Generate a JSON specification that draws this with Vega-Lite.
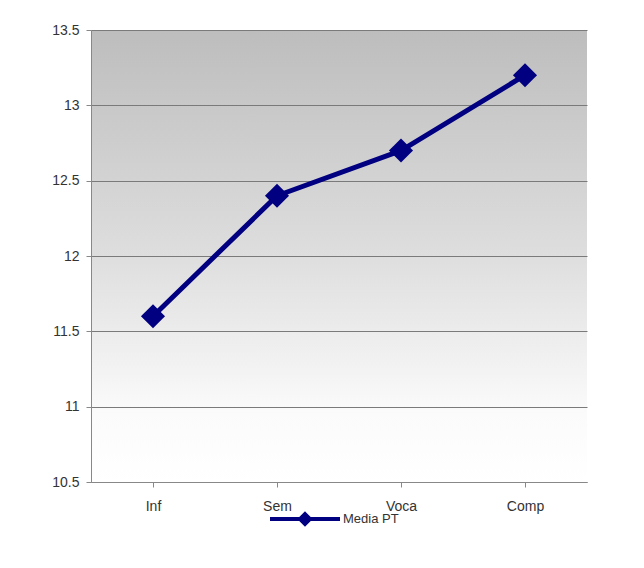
{
  "$schema": "https://vega.github.io/schema/vega-lite/v6.json",
  "width": 496,
  "height": 452,
  "autosize": {"type": "none"},
  "padding": {"left": 91, "top": 30, "right": 57, "bottom": 86},
  "background": "white",
  "config": {
    "view": {
      "stroke": null,
      "fill": {
        "gradient": "linear",
        "x1": 0, "y1": 0, "x2": 0, "y2": 1,
        "stops": [
          {"offset": 0, "color": "#bdbdbd"},
          {"offset": 0.5, "color": "#dedede"},
          {"offset": 0.85, "color": "#fbfbfb"},
          {"offset": 1, "color": "#ffffff"}
        ]
      }
    },
    "font": "Liberation Sans",
    "axis": {
      "labelFont": "Liberation Sans",
      "labelFontSize": 14,
      "labelColor": "#333333",
      "domainColor": "#888888",
      "tickColor": "#888888",
      "gridColor": "#7a7a7a",
      "gridOpacity": 1,
      "gridWidth": 1,
      "title": null
    }
  },
  "data": {
    "values": [
      {"area": "Inf", "media": 11.6, "series": "Media PT"},
      {"area": "Sem", "media": 12.4, "series": "Media PT"},
      {"area": "Voca", "media": 12.7, "series": "Media PT"},
      {"area": "Comp", "media": 13.2, "series": "Media PT"}
    ]
  },
  "layer": [
    {
      "mark": {"type": "line", "strokeWidth": 5, "strokeJoin": "round"},
      "encoding": {
        "x": {
          "field": "area",
          "type": "nominal",
          "sort": ["Inf", "Sem", "Voca", "Comp"],
          "scale": {"paddingInner": 0, "paddingOuter": 0},
          "axis": {
            "labelAngle": 0,
            "bandPosition": 0,
            "tickSize": 5,
            "labelPadding": 12,
            "domainWidth": 1
          }
        },
        "y": {
          "field": "media",
          "type": "quantitative",
          "scale": {"domain": [10.5, 13.5], "nice": false, "zero": false},
          "axis": {
            "values": [10.5, 11, 11.5, 12, 12.5, 13, 13.5],
            "format": "",
            "tickSize": 5,
            "labelPadding": 7,
            "grid": true
          }
        },
        "color": {
          "field": "series",
          "type": "nominal",
          "scale": {"range": ["#000080"]},
          "legend": {
            "title": null,
            "orient": "none",
            "legendX": 177,
            "legendY": 452,
            "padding": 0,
            "labelFontSize": 13,
            "labelColor": "#333333",
            "labelFont": "Liberation Sans",
            "labelOffset": 1,
            "symbolType": "M-1,0H1M0,-0.14L0.14,0L0,0.14L-0.14,0Z",
            "symbolSize": 4900,
            "symbolStrokeWidth": 4,
            "symbolFillColor": "#000080",
            "symbolStrokeColor": "#000080"
          }
        }
      }
    },
    {
      "mark": {"type": "point", "shape": "diamond", "filled": true, "size": 580, "opacity": 1},
      "encoding": {
        "x": {"field": "area", "type": "nominal", "sort": ["Inf", "Sem", "Voca", "Comp"]},
        "y": {"field": "media", "type": "quantitative"},
        "color": {"field": "series", "type": "nominal"}
      }
    }
  ]
}
